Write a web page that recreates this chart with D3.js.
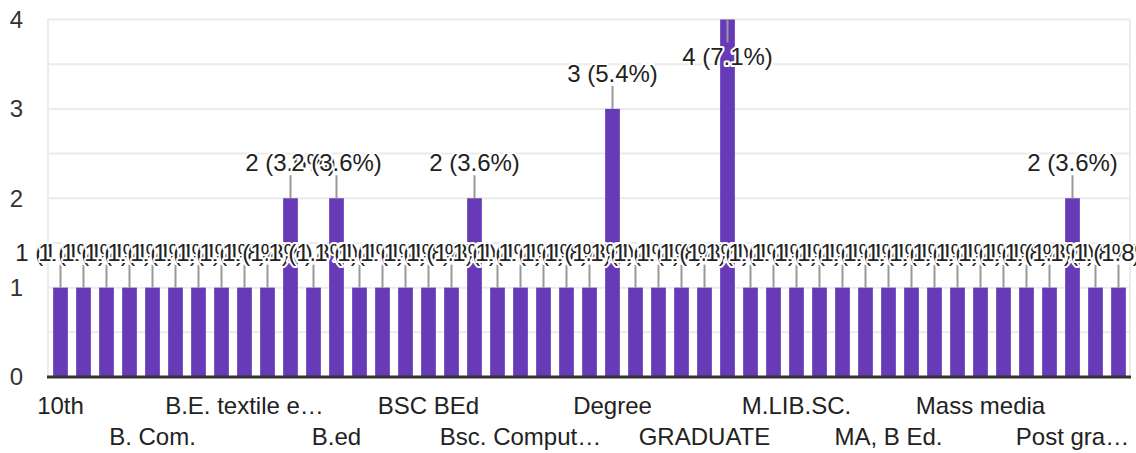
<!DOCTYPE html>
<html>
<head>
<meta charset="utf-8">
<script src="https://cdn.jsdelivr.net/npm/d3@7"></script>
<style>
  body { margin: 0; background: #fff; }
  text { font-family: "Liberation Sans", Arial, sans-serif; }
</style>
</head>
<body>
<svg id="chart" width="1136" height="453"></svg>
<script>
// answers, sorted the way the form sorts them
const categories = [
  "10th", "12th", "B Com", "B. A.", "B. Com.", "B.A", "B.A. B.Ed", "B.Com",
  "B.E. textile engineering", "B.Pharm", "B.Sc", "B.Tech", "B.ed", "BA", "BBA", "BCA",
  "BSC BEd", "BSC Nursing", "BSc", "Bachelor of Arts", "Bsc. Computer Science", "Commerce", "D.Ed", "DIPLOMA",
  "Degree", "Diploma", "Engineering", "GNM", "GRADUATE", "Graduate", "HSC", "ITI",
  "M.LIB.SC.", "M.Sc", "M.Tech", "MA", "MA, B Ed.", "MBA", "MCA", "MSW",
  "Mass media", "Masters", "Nursing", "Ph.D", "Post graduation", "SSC", "Undergraduate"
]
const counts = [
  1, 1, 1, 1, 1, 1, 1, 1,
  1, 1, 2, 1, 2, 1, 1, 1,
  1, 1, 2, 1, 1, 1, 1, 1,
  3, 1, 1, 1, 1, 4, 1, 1,
  1, 1, 1, 1, 1, 1, 1, 1,
  1, 1, 1, 1, 2, 1, 1
]
const yTicks = [0, 1, 2, 3, 4]
const yMinor = [0.5, 1.5, 2.5, 3.5]

const total = d3.sum(counts)
const rows = categories.map((c, i) => ({cat: c, val: counts[i], i: i}))

const svg = d3.select("#chart")
const purple = "#673ab7"
const left = 47, right = 1131

const x = d3.scaleBand()
  .domain(categories)
  .range([49, 1130])
  .paddingInner(0.36)
  .paddingOuter(0.18)

const y = d3.scaleLinear()
  .domain([0, 4])
  .range([377, 19.5])

// gridlines
svg.append("g")
  .selectAll("line")
  .data(yMinor.concat(yTicks.filter(d => d > 0)))
  .join("line")
  .attr("x1", left).attr("x2", right)
  .attr("y1", d => y(d)).attr("y2", d => y(d))
  .attr("stroke", "#ebebeb")
  .attr("stroke-width", 2)

svg.append("g")
  .selectAll("line")
  .data([left + 1, right - 1])
  .join("line")
  .attr("x1", d => d).attr("x2", d => d)
  .attr("y1", y(4)).attr("y2", y(0))
  .attr("stroke", "#ebebeb")
  .attr("stroke-width", 2)

// y labels
svg.append("g")
  .selectAll("text")
  .data(yTicks)
  .join("text")
  .attr("x", 23)
  .attr("y", d => y(d))
  .attr("dy", "0.35em")
  .attr("text-anchor", "end")
  .attr("font-size", 24)
  .attr("fill", "#333")
  .text(d => d)

// bars
svg.append("g")
  .selectAll("rect")
  .data(rows)
  .join("rect")
  .attr("x", d => x(d.cat))
  .attr("width", x.bandwidth())
  .attr("y", d => y(d.val))
  .attr("height", d => y(0) - y(d.val))
  .attr("fill", purple)

// baseline
svg.append("line")
  .attr("x1", left).attr("x2", right)
  .attr("y1", y(0)).attr("y2", y(0))
  .attr("stroke", "#333")
  .attr("stroke-width", 3)

// value labels: above the bar, or inside when there is no room
const inside = d => y(d.val) - 50 < y(4)
const cx = d => x(d.cat) + x.bandwidth() / 2

svg.append("g")
  .selectAll("line")
  .data(rows)
  .join("line")
  .attr("x1", cx).attr("x2", cx)
  .attr("y1", d => inside(d) ? y(d.val) : y(d.val) - 23)
  .attr("y2", d => inside(d) ? y(d.val) + 23 : y(d.val))
  .attr("stroke", "#999")
  .attr("stroke-width", 2)

svg.append("g")
  .selectAll("text")
  .data(rows)
  .join("text")
  .attr("x", cx)
  .attr("y", d => inside(d) ? y(d.val) + 45 : y(d.val) - 27)
  .attr("text-anchor", "middle")
  .attr("font-size", 24)
  .attr("fill", "#222")
  .attr("stroke", "#fff")
  .attr("stroke-width", 4)
  .attr("stroke-linejoin", "round")
  .attr("paint-order", "stroke")
  .text(d => `${d.val} (${(d.val / total * 100).toFixed(1)}%)`)

// category labels, every 4th one, on two staggered rows
const fitLabel = (node, full, maxW) => {
  let t = full
  node.textContent = t
  while (node.getComputedTextLength() > maxW && t.length > 1) {
    t = t.slice(0, -1)
    node.textContent = t.trimEnd() + "…"
  }
}

svg.append("g")
  .selectAll("text")
  .data(rows.filter(d => d.i % 4 == 0))
  .join("text")
  .attr("x", cx)
  .attr("y", d => d.i % 8 == 0 ? 414 : 445)
  .attr("text-anchor", "middle")
  .attr("font-size", 24)
  .attr("fill", "#222")
  .each(function (d) {
    fitLabel(this, d.cat, Math.min(166, 2 * (1134 - cx(d))))
  })
</script>
</body>
</html>
